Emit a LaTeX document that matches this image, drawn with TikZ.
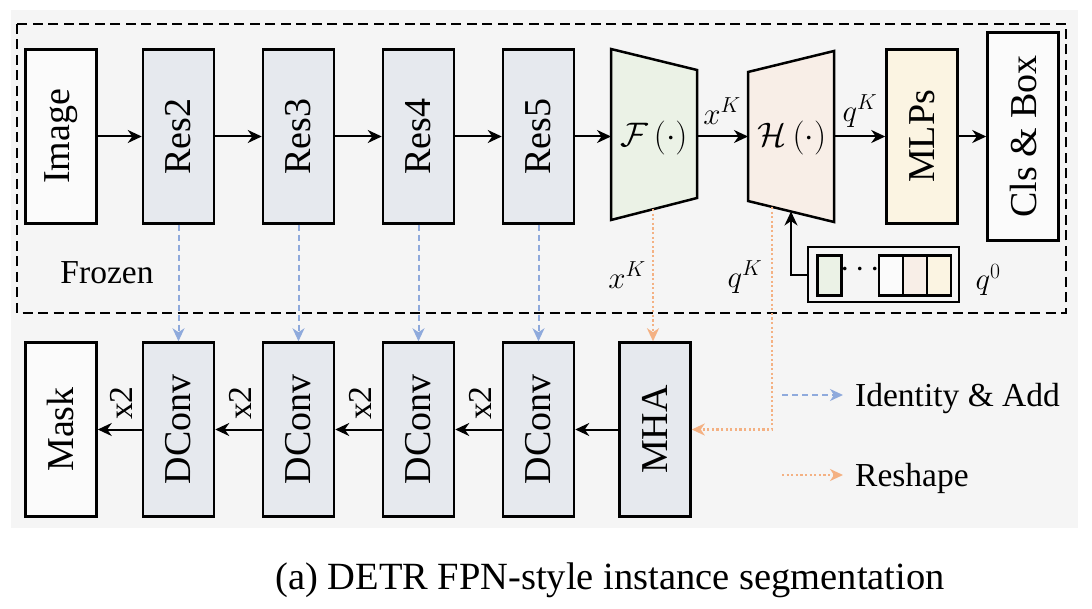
\RequirePackage{fix-cm}
\documentclass[tikz,border=0pt]{standalone}
\usepackage{fontspec}
\setmainfont{Liberation Serif}
\usetikzlibrary{arrows.meta}
\definecolor{bg}{HTML}{F5F5F5}
\definecolor{resfill}{HTML}{E6E9EE}
\definecolor{ffill}{HTML}{EBF2E6}
\definecolor{hfill}{HTML}{F8EEE7}
\definecolor{mlpfill}{HTML}{FBF4E2}
\definecolor{wfill}{HTML}{FBFBFB}
\definecolor{idblue}{HTML}{8FAADC}
\definecolor{reorange}{HTML}{F4B183}
\begin{document}
\begin{tikzpicture}[x=1pt,y=-1pt,
  box/.style={draw=black, line width=2.5pt, minimum width=71pt, minimum height=174pt, inner sep=0pt, font=\fontsize{38}{40}\selectfont},
  resbox/.style={box, fill=resfill},
  wbox/.style={box, fill=wfill},
  cell/.style={draw=black, line width=2.2pt, minimum width=24pt, minimum height=40pt, inner sep=0pt},
  arr/.style={-{Stealth[length=14pt,width=13pt,inset=4.5pt]}, line width=2pt, black},
  idarr/.style={-{Stealth[length=13pt,width=12pt,inset=4pt]}, line width=2pt, idblue, dash pattern=on 6pt off 4pt},
  rsarr/.style={-{Stealth[length=13pt,width=12pt,inset=4pt]}, line width=2.5pt, reorange, dash pattern=on 2.2pt off 2.4pt},
  lbl/.style={font=\fontsize{33.5}{36}\selectfont, inner sep=0pt},
  mlbl/.style={font=\fontsize{31}{33}\selectfont, inner sep=0pt},
  trap/.style={font=\fontsize{34}{36}\selectfont, inner sep=0pt}
]
\useasboundingbox (0,0) rectangle (1092,609);
\fill[bg] (11,10) rectangle (1078,528);
\draw[line width=2.5pt, dash pattern=on 10pt off 5.5pt] (17,24) rectangle (1066,313);

% top row
\node[wbox] (img) at (61,136.5) {\rotatebox{90}{Image}};
\node[resbox] (res2) at (178.5,136.5) {\rotatebox{90}{Res2}};
\node[resbox] (res3) at (298.5,136.5) {\rotatebox{90}{Res3}};
\node[resbox] (res4) at (418.5,136.5) {\rotatebox{90}{Res4}};
\node[resbox] (res5) at (538.5,136.5) {\rotatebox{90}{Res5}};

% trapezoids
\draw[line width=2.5pt, fill=ffill] (611,49) -- (697,70) -- (697,198) -- (611,220) -- cycle;
\draw[line width=2.5pt, fill=hfill] (748,72) -- (834,51) -- (834,222) -- (748,201) -- cycle;
\node[trap] (F) at (654,138) {$\mathcal{F}\,(\cdot)$};
\node[trap] (H) at (792,138) {$\mathcal{H}\,(\cdot)$};
\coordinate (Fl) at (611,136.5);
\coordinate (Fr) at (697,136.5);
\coordinate (Hl) at (748,136.5);
\coordinate (Hr) at (834,136.5);
\coordinate (Fb) at (653,209);
\coordinate (Hb) at (772,207);
\coordinate (Hq) at (791,211.5);

\node[box, fill=mlpfill] (mlp) at (922,136.5) {\rotatebox{90}{MLPs}};
\node[wbox, minimum height=208pt] (cls) at (1023,136.5) {\rotatebox{90}{Cls \& Box}};

\draw[arr] (img) -- (res2);
\draw[arr] (res2) -- (res3);
\draw[arr] (res3) -- (res4);
\draw[arr] (res4) -- (res5);
\draw[arr] (res5.east) -- (Fl);
\draw[arr] (Fr) -- (Hl);
\draw[arr] (Hr) -- (mlp.west);
\draw[arr] (mlp) -- (cls);

\node[mlbl] (xk1) at (722,111) {$x^K$};
\node[mlbl] (qk1) at (860,111) {$q^K$};

% query box
\node[draw=black, line width=2pt, minimum width=151pt, minimum height=55pt, inner sep=0pt, fill=bg] (qbox) at (883,275) {};
\node[cell, fill=ffill] (c1) at (829.5,275.5) {};
\node[inner sep=0pt, font=\fontsize{34}{36}\selectfont] (dots) at (860,270) {$\cdots$};
\node[cell, fill=wfill] (c2) at (891,275.5) {};
\node[cell, fill=hfill] (c3) at (915,275.5) {};
\node[cell, fill=mlpfill] (c4) at (939,275.5) {};
\node[mlbl] (q0) at (988,280) {$q^0$};
\draw[arr] (qbox.west) -| (Hq);

\node[lbl] (frozen) at (107,273) {Frozen};
\node[mlbl] (xk2) at (627,275) {$x^K$};
\node[mlbl] (qk2) at (745,277) {$q^K$};

% bottom row
\node[wbox] (mask) at (61,429.5) {\rotatebox{90}{Mask}};
\node[resbox] (d1) at (178.5,429.5) {\rotatebox{90}{DConv}};
\node[resbox] (d2) at (298.5,429.5) {\rotatebox{90}{DConv}};
\node[resbox] (d3) at (418.5,429.5) {\rotatebox{90}{DConv}};
\node[resbox] (d4) at (538.5,429.5) {\rotatebox{90}{DConv}};
\node[resbox] (mha) at (655,429.5) {\rotatebox{90}{MHA}};

\draw[arr] (mha) -- (d4);
\draw[arr] (d4) -- (d3);
\draw[arr] (d3) -- (d2);
\draw[arr] (d2) -- (d1);
\draw[arr] (d1) -- (mask);

\node[lbl, rotate=90] (x2a) at (121,403) {x2};
\node[lbl, rotate=90] (x2b) at (240,403) {x2};
\node[lbl, rotate=90] (x2c) at (360,403) {x2};
\node[lbl, rotate=90] (x2d) at (480,403) {x2};

% identity arrows
\draw[idarr] (res2) -- (d1);
\draw[idarr] (res3) -- (d2);
\draw[idarr] (res4) -- (d3);
\draw[idarr] (res5) -- (d4);

% reshape arrows
\draw[rsarr] (Fb) -- (Fb |- mha.north);
\draw[rsarr] (Hb) |- (mha.east);

% legend
\coordinate (la1) at (782,395);
\coordinate (lb1) at (843,395);
\coordinate (la2) at (782,475);
\coordinate (lb2) at (843,475);
\draw[idarr] (la1) -- (lb1);
\draw[rsarr] (la2) -- (lb2);
\node[lbl, anchor=west] (leg1) at (855,398) {Identity \& Add};
\node[lbl, anchor=west] (leg2) at (855,478) {Reshape};

% caption
\node[font=\fontsize{38.5}{40}\selectfont, inner sep=0pt] (cap) at (610,580) {(a) DETR FPN-style instance segmentation};
\end{tikzpicture}
\end{document}
